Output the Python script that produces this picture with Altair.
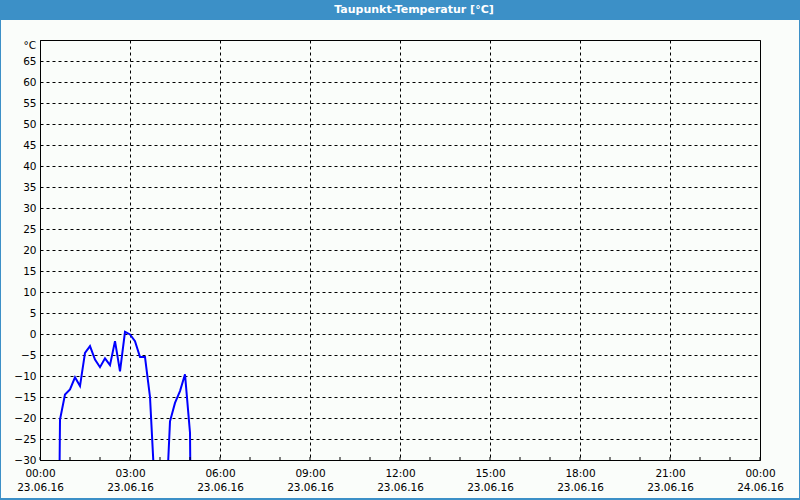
import altair as alt
import pandas as pd

# ---- data (10-minute samples, values in °C) ----
times = ["00:30", "00:40", "00:50", "01:00", "01:10", "01:20", "01:30", "01:40",
         "01:50", "02:00", "02:10", "02:20", "02:30", "02:40", "02:50", "03:00",
         "03:10", "03:20", "03:30", "03:40", "03:50", "04:00", "04:10", "04:20",
         "04:30", "04:40", "04:50", "05:00", "05:10"]
dewpoint = [-150, -20.4, -14.4, -13.2, -10.3, -12.4, -4.5, -2.9,
            -6.1, -7.9, -5.8, -7.4, -1.7, -8.9, 0.5, -0.1,
            -1.7, -5.5, -5.5, -15.0, -38, -50, -47, -20.8,
            -16.4, -13.6, -9.6, -23.5, -150]

major_ticks = [0, 180, 360, 540, 720, 900, 1080, 1260, 1440]   # minutes
minor_ticks = list(range(0, 1441, 60))                            # minutes
y_ticks = [-30, -25, -20, -15, -10, -5, 0, 5, 10, 15, 20, 25, 30,
           35, 40, 45, 50, 55, 60, 65]
title_text = "Taupunkt-Temperatur [°C]"
unit_text = "°C"


def to_min(s):
    h, m = s.split(":")
    return int(h) * 60 + int(m)


df = pd.DataFrame({"t": [to_min(s) for s in times], "v": dewpoint})
ticks_df = pd.DataFrame({"t": minor_ticks})
one = pd.DataFrame({"a": [0]})

W, H = 720, 420
FONT = "DejaVu Sans"
BLUE_BAR = "#3C90C7"
BG = "#FAFDFA"

xscale = alt.Scale(domain=[0, 1440], nice=False, zero=False)
yscale = alt.Scale(domain=[-30, 70], nice=False, zero=False)

x_label_expr = ("[format(floor(datum.value/60)%24,'02d') + ':00', "
                "datum.value < 1440 ? '23.06.16' : '24.06.16']")

x_axis = alt.Axis(values=major_ticks, labelExpr=x_label_expr,
                  grid=True, gridColor="black", gridDash=[3, 3], gridWidth=1,
                  gridOpacity=1, ticks=False, domainColor="black",
                  labelFont=FONT, labelFontSize=10.5, labelColor="black",
                  labelPadding=8, labelLineHeight=14, labelBaseline="top",
                  labelOverlap=False, labelBound=False, labelFlush=False)

line = alt.Chart(df).mark_line(color="#0000FF", strokeWidth=2, clip=True).encode(
    x=alt.X("t:Q", scale=xscale, title=None, axis=x_axis),
    y=alt.Y("v:Q", scale=yscale, title=None,
            axis=alt.Axis(values=y_ticks, grid=True, gridColor="black",
                          gridDash=[3, 3], gridWidth=1, gridOpacity=1, ticks=False,
                          domainColor="black", labelFont=FONT, labelFontSize=10.5,
                          labelColor="black", labelPadding=4, labelOverlap=False,
                          labelBound=False)),
)

minor = alt.Chart(ticks_df).mark_rule(color="black", strokeWidth=1).encode(
    x=alt.X("t:Q", scale=xscale, title=None, axis=x_axis),
    y=alt.value(H - 3), y2=alt.value(H),
)

bar = alt.Chart(one).mark_rect(color=BLUE_BAR).encode(
    x=alt.value(-40), x2=alt.value(W + 40), y=alt.value(-40), y2=alt.value(-20))
left_border = alt.Chart(one).mark_rect(color=BLUE_BAR).encode(
    x=alt.value(-40), x2=alt.value(-39), y=alt.value(-40), y2=alt.value(H + 40))
right_border = alt.Chart(one).mark_rect(color=BLUE_BAR).encode(
    x=alt.value(W + 39), x2=alt.value(W + 40), y=alt.value(-40), y2=alt.value(H + 40))
bottom_border = alt.Chart(one).mark_rect(color=BLUE_BAR).encode(
    x=alt.value(-40), x2=alt.value(W + 40), y=alt.value(H + 38), y2=alt.value(H + 40))

title = alt.Chart(one).mark_text(color="white", font=FONT, fontSize=11,
                                 fontWeight="bold", align="center",
                                 baseline="middle").encode(
    x=alt.value(374), y=alt.value(-30), text=alt.value(title_text))

unit = alt.Chart(one).mark_text(color="black", font=FONT, fontSize=10.5,
                                align="right", baseline="middle").encode(
    x=alt.value(-4), y=alt.value(5.5), text=alt.value(unit_text))

chart = alt.layer(line, minor, bar, left_border, right_border, bottom_border,
                  title, unit).properties(
    width=W, height=H,
    autosize=alt.AutoSizeParams(type="none"),
    padding={"left": 40, "top": 40, "right": 40, "bottom": 40},
    background=BG,
).configure_view(stroke="black", strokeWidth=1, fill=BG)

chart.save("out.html", embed_options={"renderer": "svg", "actions": False})
